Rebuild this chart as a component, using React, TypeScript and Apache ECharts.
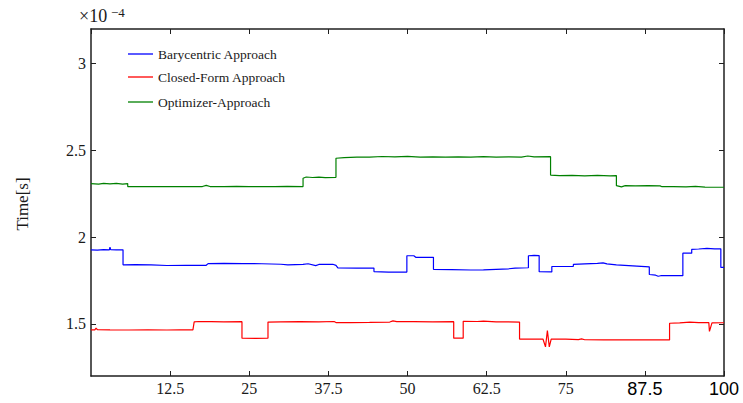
import React, { useEffect, useRef } from "react";
import * as echarts from "echarts";

const seriesNames = ["Barycentric Approach", "Closed-Form Approach", "Optimizer-Approach"];
const seriesColors = ["#0000ff", "#ff0000", "#008000"];

const xTickLabels = [12.5, 25, 37.5, 50, 62.5, 75, 87.5, 100];
const yTickValues = [1.5, 2, 2.5, 3];

// values in units of 1e-4 s, [x, y]
const barycentricData: [number, number][] = [
  [0, 1.927], [1, 1.926], [2, 1.928], [2.9, 1.927], [3.0, 1.942], [3.1, 1.928], [4, 1.927], [5.06, 1.927],
  [5.06, 1.841], [7, 1.842], [9.5, 1.84], [9.5, 1.837], [12, 1.837], [15, 1.838], [18.2, 1.838], [18.5, 1.848],
  [21, 1.849], [24, 1.848], [27, 1.847], [30, 1.844], [31.1, 1.841], [33.5, 1.843], [34.3, 1.847], [35.5, 1.836],
  [36, 1.843], [38.2, 1.844], [38.7, 1.838], [39, 1.823], [42, 1.822], [44.7, 1.822], [44.7, 1.802], [47, 1.799],
  [49.9, 1.799], [49.9, 1.893], [51, 1.893], [51.3, 1.884], [54.1, 1.884], [54.1, 1.815], [57, 1.813], [60, 1.811],
  [62, 1.812], [64, 1.815], [66, 1.818], [67, 1.822], [69.1, 1.824], [69.1, 1.893], [70, 1.895], [70.8, 1.894],
  [70.8, 1.801], [72.8, 1.8], [72.8, 1.831], [76.2, 1.832], [76.2, 1.843], [78, 1.846], [80, 1.849], [80.9, 1.852],
  [81.5, 1.846], [83, 1.841], [85.6, 1.835], [88.2, 1.829], [88.2, 1.785], [89.2, 1.781], [89.6, 1.775], [90, 1.778],
  [93.5, 1.778], [93.5, 1.908], [94.9, 1.908], [94.9, 1.93], [96, 1.932], [97.3, 1.936], [98.5, 1.933], [99.5, 1.933],
  [99.5, 1.826], [100, 1.826],
];

const closedFormData: [number, number][] = [
  [0, 1.466], [0.6, 1.466], [0.8, 1.476], [1.0, 1.467], [3, 1.466], [6, 1.465], [9, 1.466], [12, 1.465],
  [14, 1.466], [16.1, 1.466], [16.3, 1.512], [17, 1.514], [19, 1.513], [21, 1.512], [23.85, 1.513], [23.85, 1.418],
  [26, 1.417], [27.96, 1.418], [27.96, 1.511], [30, 1.512], [33, 1.513], [36, 1.512], [38.4, 1.514], [38.7, 1.508],
  [41, 1.508], [44, 1.509], [47.2, 1.511], [47.7, 1.518], [48.3, 1.513], [51, 1.513], [54, 1.512], [57.3, 1.513],
  [57.3, 1.418], [58.8, 1.418], [58.8, 1.515], [61, 1.514], [62, 1.516], [64, 1.512], [67.7, 1.511], [67.7, 1.413],
  [70, 1.412], [71.4, 1.413], [71.8, 1.368], [72.1, 1.462], [72.4, 1.368], [72.7, 1.412], [75, 1.412], [77, 1.41],
  [77.5, 1.414], [78, 1.409], [81, 1.408], [85, 1.408], [88, 1.408], [91.4, 1.408], [91.4, 1.504], [93, 1.506],
  [94.6, 1.511], [96, 1.508], [97.6, 1.508], [97.7, 1.457], [98.1, 1.506], [100, 1.507],
];

const optimizerData: [number, number][] = [
  [0, 2.309], [1.2, 2.306], [2, 2.31], [3, 2.307], [4, 2.31], [5, 2.306], [5.8, 2.309], [5.8, 2.292],
  [8, 2.291], [10, 2.292], [12, 2.291], [14, 2.292], [16, 2.291], [17.6, 2.292], [18.2, 2.299], [18.8, 2.292],
  [21, 2.291], [23, 2.293], [25, 2.291], [27, 2.292], [29, 2.291], [31, 2.293], [33.5, 2.292], [33.5, 2.34],
  [34, 2.347], [35, 2.344], [36, 2.346], [37, 2.343], [38.7, 2.345], [38.7, 2.455], [40, 2.459], [42, 2.462],
  [44, 2.461], [46, 2.465], [48, 2.463], [50, 2.466], [52, 2.462], [54, 2.463], [56, 2.461], [58, 2.463],
  [60, 2.462], [62, 2.464], [64, 2.462], [66, 2.463], [68, 2.462], [69, 2.468], [70, 2.463], [72.6, 2.464],
  [72.6, 2.358], [74, 2.355], [76, 2.356], [78, 2.354], [80, 2.356], [82, 2.354], [83, 2.355], [83, 2.297],
  [83.8, 2.29], [84.4, 2.297], [86, 2.296], [88, 2.297], [89.9, 2.296], [90.2, 2.291], [92, 2.291], [94, 2.29],
  [95.5, 2.293], [97, 2.289], [100, 2.288],
];

const SERIF = "Liberation Serif";
const SANS = "Liberation Sans";
const AXIS_COLOR = "#1f1f1f";
const TEXT_COLOR = "#1a1a1a";

export default function App() {
  const ref = useRef<HTMLDivElement>(null);
  useEffect(() => {
    if (!ref.current) return;
    const chart = echarts.init(ref.current, undefined, { renderer: "svg" });
    const allData = [barycentricData, closedFormData, optimizerData];
    const legendTops = [47, 70, 95];
    const axisLineStyle = { color: AXIS_COLOR, width: 1.5 };
    const tickStyle = { inside: true, length: 5, lineStyle: { color: AXIS_COLOR, width: 1 } };
    chart.setOption({
      animation: false,
      backgroundColor: "#ffffff",
      grid: { left: 91, top: 29, right: 19, bottom: 27, containLabel: false },
      legend: seriesNames.map((n, i) => ({
        data: [{ name: n, icon: "rect", itemStyle: { color: seriesColors[i] } }],
        left: 128,
        top: legendTops[i],
        orient: "vertical",
        padding: 0,
        itemWidth: 25,
        itemHeight: 1.3,
        textStyle: { fontFamily: SERIF, fontSize: 13.5, color: TEXT_COLOR },
        selectedMode: false,
      })),
      xAxis: [
        {
          type: "value",
          min: 0,
          max: 100,
          interval: 12.5,
          position: "bottom",
          axisLine: { onZero: false, lineStyle: axisLineStyle },
          axisTick: tickStyle,
          splitLine: { show: false },
          axisLabel: {
            margin: 4,
            showMinLabel: false,
            fontFamily: SERIF,
            fontSize: 16,
            formatter: (v: number) => {
              if (v === 0) return "";
              return xTickLabels.indexOf(v) >= 6 ? `{b|${v}}` : `{a|${v}}`;
            },
            rich: {
              a: { fontFamily: SERIF, fontSize: 16, color: TEXT_COLOR },
              b: { fontFamily: SANS, fontSize: 18, color: "#000000" },
            },
          },
        },
        {
          type: "value",
          min: 0,
          max: 100,
          interval: 12.5,
          position: "top",
          axisLine: { onZero: false, lineStyle: axisLineStyle },
          axisTick: tickStyle,
          splitLine: { show: false },
          axisLabel: { show: false },
        },
      ],
      yAxis: [
        {
          type: "value",
          min: 1.2,
          max: 3.2,
          position: "left",
          axisLine: { show: true, onZero: false, lineStyle: axisLineStyle },
          axisTick: { ...tickStyle, customValues: yTickValues },
          splitLine: { show: false },
          axisLabel: {
            margin: 5,
            customValues: yTickValues,
            fontFamily: SERIF,
            fontSize: 16,
            color: TEXT_COLOR,
            formatter: (v: number) => String(v),
          },
        },
        {
          type: "value",
          min: 1.2,
          max: 3.2,
          position: "right",
          axisLine: { show: true, onZero: false, lineStyle: axisLineStyle },
          axisTick: { ...tickStyle, customValues: yTickValues },
          splitLine: { show: false },
          axisLabel: { show: false },
        },
      ],
      graphic: [
        {
          type: "text",
          left: 79,
          top: 7,
          style: { text: "×10", fontFamily: SERIF, fontSize: 18, fill: TEXT_COLOR },
        },
        {
          type: "text",
          left: 111,
          top: 6,
          style: { text: "−4", fontFamily: SERIF, fontSize: 13, fill: TEXT_COLOR },
        },
        {
          type: "text",
          x: 22,
          y: 204,
          rotation: Math.PI / 2,
          style: {
            text: "Time[s]",
            fontFamily: SERIF,
            fontSize: 17,
            fill: TEXT_COLOR,
            align: "center",
            verticalAlign: "middle",
          },
        },
      ],
      series: seriesNames.map((n, i) => ({
        name: n,
        type: "line",
        xAxisIndex: 0,
        yAxisIndex: 0,
        data: allData[i],
        symbol: "none",
        showSymbol: false,
        lineStyle: { color: seriesColors[i], width: 1.2 },
        itemStyle: { color: seriesColors[i] },
      })),
    });
    return () => chart.dispose();
  }, []);
  return (
    <div
      ref={ref}
      style={{ position: "fixed", left: 0, top: 0, width: 743, height: 403, background: "#fff" }}
    />
  );
}
